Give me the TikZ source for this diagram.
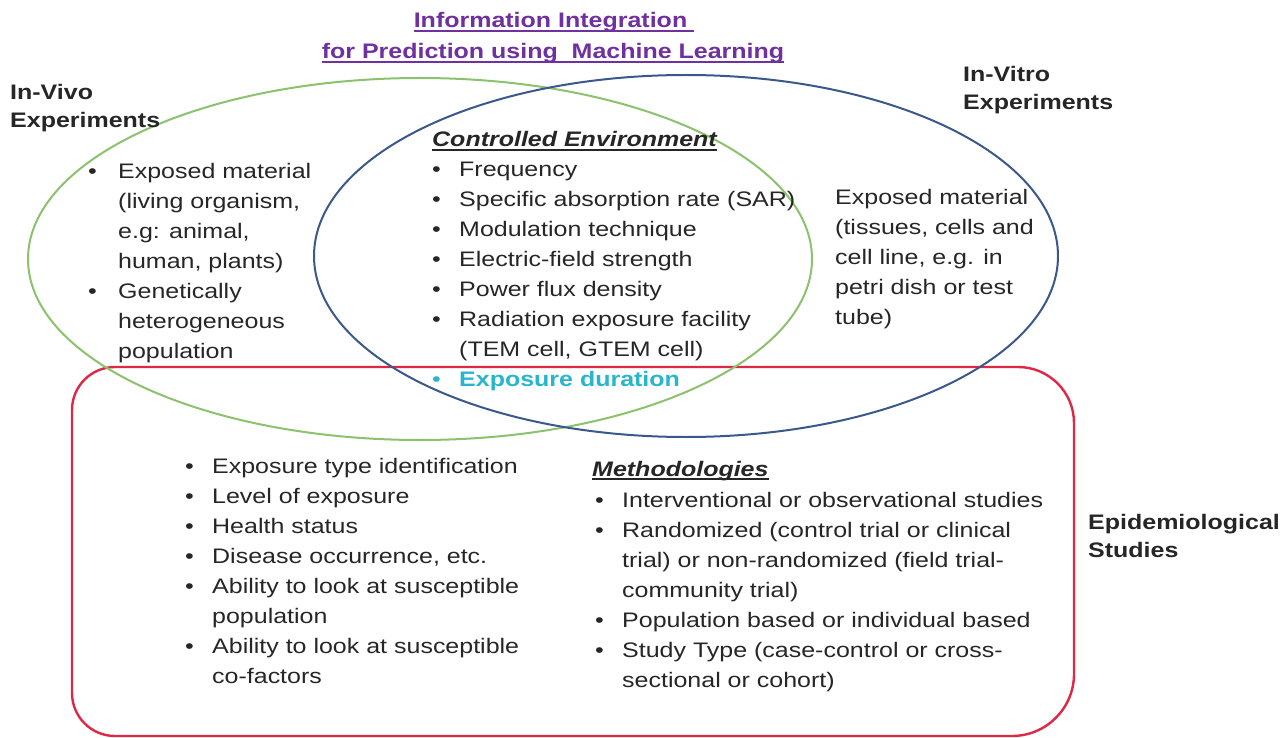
\documentclass[tikz,border=0pt]{standalone}
\usepackage{fontspec}
\setmainfont{Liberation Sans}[FakeStretch=1.19]
\definecolor{txt}{RGB}{38,38,38}
\definecolor{ttl}{RGB}{112,48,160}
\definecolor{vivo}{RGB}{140,194,110}
\definecolor{vitro}{RGB}{58,88,140}
\definecolor{epi}{RGB}{222,40,70}
\definecolor{cyanx}{RGB}{40,182,204}
\newcommand\ulx[1]{\setbox0=\hbox{#1}\rlap{\rule[-4pt]{\wd0}{1.6pt}}\box0}
\newcommand\bl{\makebox[27pt][l]{•}}
\newcommand\ind{\hspace*{27pt}}
\newcommand\blw{\makebox[30pt][l]{•}}
\newcommand\indw{\hspace*{30pt}}
\tikzset{
  lbl/.style={inner sep=0pt, anchor=base west, text=txt, font=\fontsize{21}{28}\selectfont\bfseries, align=left},
  blk/.style={inner sep=0pt, anchor=base west, text=txt, font=\fontsize{21}{30}\selectfont},
  hdr/.style={inner sep=0pt, anchor=base west, text=txt, font=\fontsize{21}{30}\selectfont\bfseries\itshape},
  setline/.style={line width=2pt}
}
\begin{document}
\begin{tikzpicture}[x=1pt,y=-1pt]
\fill[white] (0,0) rectangle (1280,738);
\useasboundingbox (0,0) rectangle (1280,738);
% sets
\draw[setline, epi, line width=2.4pt] (72,550) [rounded corners=43pt] -- (72,367) [rounded corners=56pt] -- (1074,367) [rounded corners=62pt] -- (1074,736) [rounded corners=43pt] -- (72,736) [sharp corners] -- cycle;
\draw[setline, vivo] (420,259) ellipse [x radius=392pt, y radius=181pt];
\draw[setline, vitro] (686,256) ellipse [x radius=372pt, y radius=181pt];
% title
\node[inner sep=0pt, anchor=base, text=ttl, font=\fontsize{21}{30}\selectfont\bfseries] (t1) at (554,28) {\ulx{Information Integration\ }};
\node[inner sep=0pt, anchor=base, text=ttl, font=\fontsize{21}{30}\selectfont\bfseries] (t2) at (553,59) {\ulx{for Prediction using\ \ Machine Learning}};
% labels
\node[lbl] (vivo) at (10,100) {\begin{minipage}[t]{200pt}\raggedright In-Vivo\\Experiments\end{minipage}};
\node[lbl] (vitro) at (963,82) {\begin{minipage}[t]{200pt}\raggedright In-Vitro\\Experiments\end{minipage}};
\node[lbl] (epil) at (1088,529) {\begin{minipage}[t]{200pt}\raggedright Epidemiological\\Studies\end{minipage}};
% in vivo list
\node[blk] (vivolist) at (88,179) {\begin{minipage}[t]{400pt}
\blw Exposed material\\
\indw (living organism,\\
\indw e.g: animal,\\
\indw human, plants)\\
\blw Genetically\\
\indw heterogeneous\\
\indw population\end{minipage}};
% controlled environment
\node[hdr] (ceh) at (432,147) {\ulx{Controlled Environment}};
\node[blk] (celist) at (432,177) {\begin{minipage}[t]{500pt}
\bl Frequency\\
\bl Specific absorption rate (SAR)\\
\bl Modulation technique\\
\bl Electric-field strength\\
\bl Power flux density\\
\bl Radiation exposure facility\\
\ind (TEM cell, GTEM cell)\\
{\color{cyanx}\bl\bfseries Exposure duration}\end{minipage}};
% in vitro text
\node[blk] (vitrolist) at (835,205) {\begin{minipage}[t]{300pt}
Exposed material\\
(tissues, cells and\\
cell line, e.g. in\\
petri dish or test\\
tube)\end{minipage}};
% epidemiological left list
\node[blk] (epilist) at (185,473) {\begin{minipage}[t]{500pt}
\bl Exposure type identification\\
\bl Level of exposure\\
\bl Health status\\
\bl Disease occurrence, etc.\\
\bl Ability to look at susceptible\\
\ind population\\
\bl Ability to look at susceptible\\
\ind co-factors\end{minipage}};
% methodologies
\node[hdr] (meth) at (592,476) {\ulx{Methodologies}};
\node[blk] (methlist) at (595,507) {\begin{minipage}[t]{500pt}
\bl Interventional or observational studies\\
\bl Randomized (control trial or clinical\\
\ind trial) or non-randomized (field trial-\\
\ind community trial)\\
\bl Population based or individual based\\
\bl Study Type (case-control or cross-\\
\ind sectional or cohort)\end{minipage}};
\end{tikzpicture}
\end{document}
